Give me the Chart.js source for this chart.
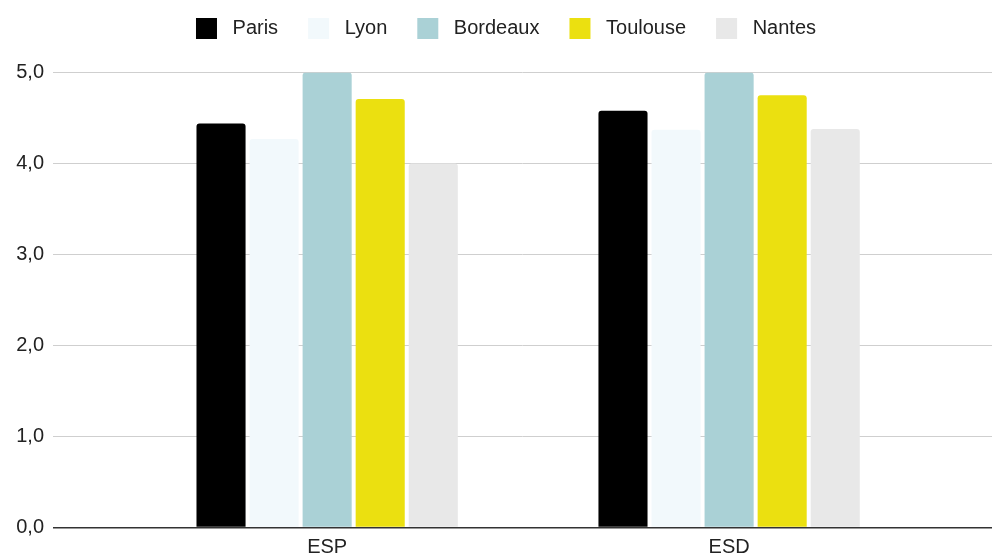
<!DOCTYPE html>
<html>
<head>
<meta charset="utf-8">
<script src="https://cdn.jsdelivr.net/npm/chart.js@4/dist/chart.umd.min.js"></script>
<style>
  html, body { margin: 0; padding: 0; background: #fff; }
  #wrap { width: 992px; height: 556px; }
</style>
</head>
<body>
<div id="wrap"><canvas id="graficoVilles" width="992" height="556"></canvas></div>
<script>
// categories (placed at x = 1, 2 on a linear axis)
var categories = ['ESP', 'ESD'];
var positions = [1, 2];

// series
var villes = ['Paris', 'Lyon', 'Bordeaux', 'Toulouse', 'Nantes'];
var paris    = [4.44, 4.58];
var lyon     = [4.27, 4.37];
var bordeaux = [5.0, 5.0];
var toulouse = [4.71, 4.75];
var nantes   = [4.0, 4.38];

var couleurs = ['#000000', '#f2f9fc', '#aad1d6', '#ebe010', '#e8e8e8'];
var yTicks = [0, 1, 2, 3, 4, 5];

function points(values) {
    return values.map(function (v, i) { return { x: positions[i], y: v }; });
}

var series = [paris, lyon, bordeaux, toulouse, nantes];
var datasets = series.map(function (values, i) {
    return {
        label: villes[i],
        data: points(values),
        backgroundColor: couleurs[i],
        borderWidth: 0,
        borderRadius: 3,
        categoryPercentage: 0.66,
        barPercentage: 0.925
    };
});

var police = { family: '"Liberation Sans", Arial, Helvetica, sans-serif', size: 20 };

// legend: extra room below, and nudged right like the original
var legendeAjust = {
    id: 'legendeAjust',
    beforeInit: function (chart) {
        var fit = chart.legend.fit;
        chart.legend.fit = function () {
            fit.bind(chart.legend)();
            this.height += 23.5;
        };
    },
    afterLayout: function (chart) {
        chart.legend.left += 10;
        chart.legend.right += 10;
    }
};

var ctx = document.getElementById('graficoVilles').getContext('2d');
var grafico = new Chart(ctx, {
    type: 'bar',
    data: { datasets: datasets },
    plugins: [legendeAjust],
    options: {
        responsive: false,
        animation: false,
        layout: { padding: { left: 0, right: 0, top: -12, bottom: 0 } },
        plugins: {
            tooltip: { enabled: false },
            legend: {
                position: 'top',
                labels: {
                    boxWidth: 21,
                    boxHeight: 21,
                    padding: 30,
                    color: '#222',
                    font: police,
                    generateLabels: function (chart) {
                        var items = Chart.defaults.plugins.legend.labels.generateLabels(chart);
                        items.forEach(function (it) { it.text = ' ' + it.text; it.lineWidth = 0; });
                        return items;
                    }
                }
            }
        },
        scales: {
            x: {
                type: 'linear',
                min: 0.318,
                max: 2.654,
                offset: false,
                grid: { display: false, drawTicks: false },
                border: { display: false },
                afterBuildTicks: function (axis) {
                    axis.ticks = positions.map(function (p) { return { value: p }; });
                },
                afterFit: function (axis) { axis.height = 28.5; },
                ticks: {
                    padding: 10,
                    color: '#222',
                    font: { family: police.family, size: 20, lineHeight: 1 },
                    callback: function (v) {
                        var i = positions.indexOf(v);
                        return i >= 0 ? categories[i] : '';
                    }
                }
            },
            y: {
                min: 0,
                max: 5,
                grid: {
                    drawTicks: false,
                    color: function (c) { return c.tick && c.tick.value === 0 ? '#333' : '#cfcfcf'; },
                    lineWidth: function (c) { return c.tick && c.tick.value === 0 ? 1.5 : 1; }
                },
                border: { display: false },
                afterBuildTicks: function (axis) {
                    axis.ticks = yTicks.map(function (t) { return { value: t }; });
                },
                afterFit: function (axis) { axis.width = 53; },
                ticks: {
                    padding: 9,
                    color: '#222',
                    font: police,
                    callback: function (v) { return v.toFixed(1).replace('.', ','); }
                }
            }
        }
    }
});
</script>
</body>
</html>
